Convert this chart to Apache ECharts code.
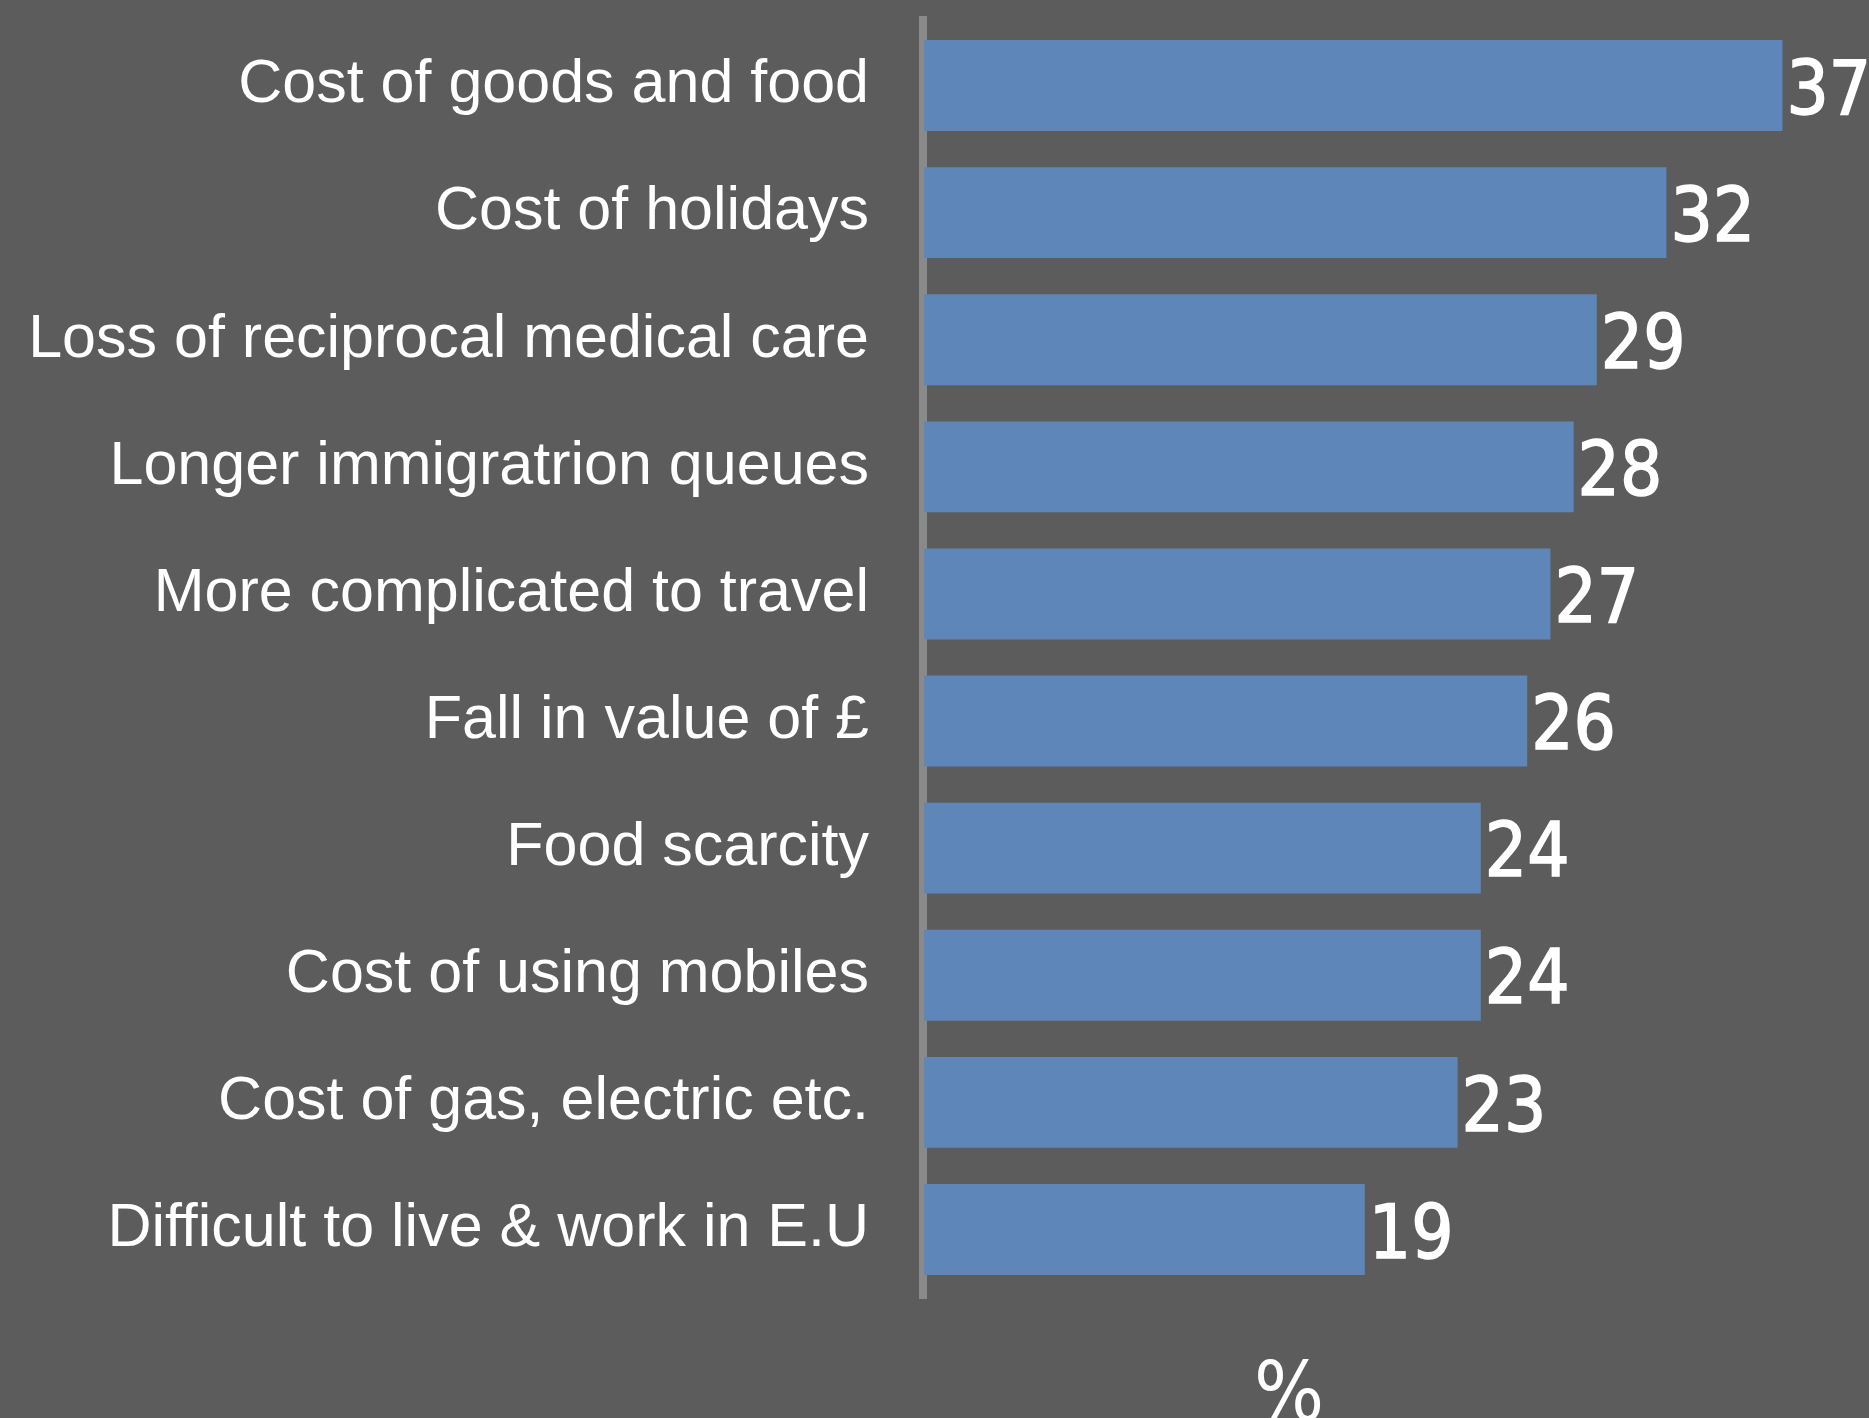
<!DOCTYPE html>
<html><head><meta charset="utf-8">
<script src="https://cdn.jsdelivr.net/npm/echarts@6/dist/echarts.min.js"></script>
<style>html,body{margin:0;padding:0;background:#5c5c5c;}#c{width:1869px;height:1418px;}</style>
</head><body><div id="c"></div>
<script>
const categories = ["Cost of goods and food","Cost of holidays","Loss of reciprocal medical care","Longer immigratrion queues","More complicated to travel","Fall in value of £","Food scarcity","Cost of using mobiles","Cost of gas, electric etc.","Difficult to live & work in E.U"];
const values = [37,32,29,28,27,26,24,24,23,19];
const axisName = "%";

const chart = echarts.init(document.getElementById('c'));
chart.setOption({
  backgroundColor: '#5c5c5c',
  animation: false,
  grid: [
    {left: 924, right: 17, top: 22, bottom: 125},
    {left: 923, right: 17, top: 16, bottom: 119}
  ],
  xAxis: [
    {type: 'value', gridIndex: 0, min: 0, max: 40, show: false},
    {type: 'value', gridIndex: 1, min: 0, max: 40, show: false}
  ],
  yAxis: [
    {type: 'category', gridIndex: 0, inverse: true, data: categories,
     axisLine: {show: false}, axisTick: {show: false}, splitLine: {show: false},
     axisLabel: {color: '#ffffff', fontFamily: 'Liberation Sans, Arial, sans-serif', fontSize: 61, margin: 55,
       padding: [10, 0, 0, 0]}},
    {type: 'category', gridIndex: 1, inverse: true, data: categories, z: 0,
     axisLine: {show: true, lineStyle: {color: '#898b8b', width: 8, cap: 'butt'}},
     axisTick: {show: false}, axisLabel: {show: false}, splitLine: {show: false}}
  ],
  graphic: [{
    type: 'text', left: 1254, top: 1358, z: 10,
    style: {text: axisName, fill: '#ffffff', font: '82px "DejaVu Sans Condensed", sans-serif'}
  }],
  series: [{
    type: 'bar', xAxisIndex: 0, yAxisIndex: 0, data: values, z: 5,
    barCategoryGap: '28.5%',
    itemStyle: {color: '#5e86b8'},
    label: {show: true, position: 'right', distance: 4, color: '#ffffff', offset: [0, 9],
      textBorderColor: '#ffffff', textBorderWidth: 1.5,
      fontFamily: '"DejaVu Sans Condensed", sans-serif', fontSize: 74, fontWeight: 'normal'}
  }]
});
</script></body></html>
